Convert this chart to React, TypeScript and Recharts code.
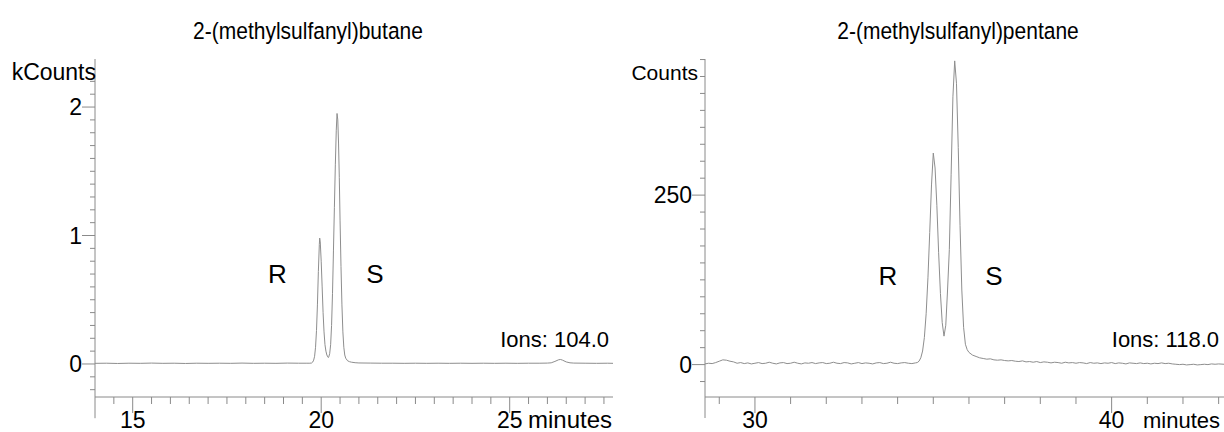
import React from 'react';
import { LineChart, Line, XAxis, YAxis, ReferenceLine } from 'recharts';

const AXIS = '#8a8a8a';
const TRACE = '#8e8e8e';
const FONT = '"Liberation Sans", Arial, Helvetica, sans-serif';

// ---------- 2-(methylsulfanyl)butane (kCounts vs minutes) ----------
const butaneMinutes = [
  14.0, 14.3, 14.6, 14.9, 15.2, 15.5, 15.8, 16.1, 16.4, 16.7, 17.0, 17.3, 17.6, 17.9, 18.2, 18.5, 18.8, 19.1, 19.4, 19.6,
  19.7, 19.75, 19.775, 19.8, 19.825, 19.85, 19.875, 19.9, 19.925, 19.95, 19.96, 19.975, 20.0, 20.025, 20.05, 20.075,
  20.1, 20.125, 20.15, 20.175, 20.19, 20.2, 20.225, 20.25, 20.275, 20.3, 20.325, 20.35, 20.375, 20.4, 20.42, 20.44,
  20.46, 20.48, 20.5, 20.525, 20.55, 20.575, 20.6, 20.625, 20.65, 20.7, 20.75, 20.8, 20.9, 21.0,
  21.3, 21.6, 21.9, 22.2, 22.5, 22.8, 23.1, 23.4, 23.7, 24.0, 24.3, 24.6, 24.9, 25.2, 25.5, 25.8,
  26.0, 26.1, 26.2, 26.3, 26.35, 26.4, 26.5, 26.6, 26.7, 27.0, 27.3, 27.6, 27.74,
];
const butaneKCounts = [
  0.005, 0.006, 0.004, 0.006, 0.005, 0.007, 0.005, 0.006, 0.004, 0.006, 0.005, 0.006, 0.005, 0.007, 0.005, 0.006, 0.005, 0.007, 0.006, 0.006,
  0.006, 0.008, 0.015, 0.03, 0.06, 0.13, 0.26, 0.46, 0.72, 0.93, 0.98, 0.95, 0.8, 0.6, 0.4, 0.25,
  0.15, 0.1, 0.07, 0.055, 0.05, 0.055, 0.08, 0.15, 0.3, 0.55, 0.88, 1.22, 1.55, 1.82, 1.95, 1.9,
  1.72, 1.45, 1.12, 0.76, 0.46, 0.25, 0.13, 0.07, 0.045, 0.025, 0.018, 0.014, 0.01, 0.008,
  0.007, 0.006, 0.006, 0.005, 0.006, 0.005, 0.006, 0.005, 0.006, 0.005, 0.006, 0.005, 0.006, 0.005, 0.006, 0.006,
  0.007, 0.009, 0.02, 0.033, 0.035, 0.03, 0.016, 0.009, 0.007, 0.006, 0.005, 0.006, 0.005,
];
const butaneXDomain = [14, 27.74];
const butaneYDomain = [-0.257, 2.374];
const butaneXTicks = [14.5, 15, 15.5, 16, 16.5, 17, 17.5, 18, 18.5, 19, 19.5, 20, 20.5, 21, 21.5, 22, 22.5, 23, 23.5, 24, 24.5, 25, 25.5, 26, 26.5, 27, 27.5];
const butaneXLabels = [15, 20, 25];
const butaneYTicks = [-0.2, -0.1, 0, 0.1, 0.2, 0.3, 0.4, 0.5, 0.6, 0.7, 0.8, 0.9, 1, 1.1, 1.2, 1.3, 1.4, 1.5, 1.6, 1.7, 1.8, 1.9, 2, 2.1, 2.2, 2.3];
const butaneYLabels = [0, 1, 2];

// ---------- 2-(methylsulfanyl)pentane (Counts vs minutes) ----------
const pentaneMinutes = [
  28.6, 28.7, 28.8, 28.9, 29.0, 29.1, 29.2, 29.3, 29.4, 29.5, 29.6, 29.7, 29.8, 29.9, 30.0, 30.1, 30.2, 30.3, 30.4, 30.5,
  30.6, 30.7, 30.8, 30.9, 31.0, 31.1, 31.2, 31.3, 31.4, 31.5, 31.6, 31.7, 31.8, 31.9, 32.0, 32.1, 32.2, 32.3, 32.4, 32.5,
  32.6, 32.7, 32.8, 32.9, 33.0, 33.1, 33.2, 33.3, 33.4, 33.5, 33.6, 33.7, 33.8, 33.9, 34.0, 34.1, 34.2, 34.3, 34.4, 34.5,
  34.55, 34.6, 34.65, 34.7, 34.75, 34.8, 34.85, 34.9, 34.95, 35.0, 35.05, 35.1, 35.15, 35.2, 35.25, 35.3, 35.35, 35.4,
  35.45, 35.5, 35.55, 35.6, 35.65, 35.7, 35.75, 35.8, 35.85, 35.9, 35.95, 36.0, 36.1, 36.2, 36.3, 36.4, 36.5, 36.6,
  36.7, 36.8, 36.9, 37.0, 37.1, 37.2, 37.3, 37.4, 37.5, 37.6, 37.7, 37.8, 37.9, 38.0, 38.1, 38.2, 38.3, 38.4, 38.5,
  38.6, 38.7, 38.8, 38.9, 39.0, 39.1, 39.2, 39.3, 39.4, 39.5, 39.6, 39.7, 39.8, 39.9, 40.0, 40.1, 40.2, 40.3, 40.4,
  40.5, 40.6, 40.7, 40.8, 40.9, 41.0, 41.1, 41.2, 41.3, 41.4, 41.5, 41.6, 41.7, 41.8, 41.9, 42.0, 42.1, 42.2, 42.3,
  42.4, 42.5, 42.6, 42.7, 42.8, 42.9, 43.0, 43.15,
];
const pentaneCounts = [
  1, 2, 1.5, 3, 5, 7, 6.5, 5, 4, 2, 3, 1.5, 2.5, 1, 2, 3, 1.5, 2, 3.5, 2,
  1, 2.5, 3, 1.5, 2, 3.5, 2, 1, 2.5, 2, 3, 1.5, 2.5, 3, 1.5, 2, 3.5, 2, 1.5, 3,
  2.5, 1, 2, 3, 1.5, 2.5, 2, 1, 2.5, 3, 1.5, 2, 3.5, 2, 1.5, 2.5, 3, 2, 1.5, 2.5,
  3, 5, 10, 20, 40, 75, 128, 195, 265, 312, 290, 235, 165, 105, 62, 42, 58, 110,
  170, 280, 395, 448, 415, 320, 205, 110, 55, 30, 22, 18, 14, 12, 10, 9, 8, 8.5,
  7, 6.5, 7, 6, 5.5, 6, 5, 4.5, 5.5, 4, 4.5, 3.5, 4.5, 3, 4, 3.5, 2.5, 3.5, 3,
  2, 3.5, 2.5, 3, 2, 3, 2.5, 1.5, 3, 2, 2.5, 1.5, 2.5, 2, 3, 1.5, 2.5, 2, 1,
  2.5, 2, 1.5, 2.5, 1.5, 2, 1, 2, 1.5, 2.5, 1.5, 2, 1, 0.5, 0, 0.5, -0.5, 0, 0.5,
  -0.5, 0, 0.5, 0, 1, 0.5, 1, 0.5,
];
const pentaneXDomain = [28.6, 43.15];
const pentaneYDomain = [-47.8, 450.8];
const pentaneXTicks = [29, 30, 31, 32, 33, 34, 35, 36, 37, 38, 39, 40, 41, 42, 43];
const pentaneXLabels = [30, 40];
const pentaneYTicks = [-25, 0, 25, 50, 75, 100, 125, 150, 175, 200, 225, 250, 275, 300, 325, 350, 375, 400, 425, 450];
const pentaneYLabels = [0, 250];

const zip = (xs: number[], ys: number[]) => xs.map((t, i) => ({ t, v: ys[i] }));
const butaneData = zip(butaneMinutes, butaneKCounts);
const pentaneData = zip(pentaneMinutes, pentaneCounts);

const isIn = (v: number, list: number[]) => list.some((m) => Math.abs(m - v) < 1e-6);

function XTick(props: any) {
  const { x, y, payload, labels } = props;
  const major = isIn(payload.value, labels);
  return (
    <g>
      <line x1={x} x2={x} y1={y} y2={y + (major ? 16 : 7)} stroke={AXIS} strokeWidth={1} />
      {major && (
        <text x={x} y={y + 31} textAnchor="middle" fontSize={23} fontFamily={FONT} fill="#000">
          {payload.value}
        </text>
      )}
    </g>
  );
}

function YTick(props: any) {
  const { x, y, payload, labels } = props;
  const major = isIn(payload.value, labels);
  return (
    <g>
      <line x1={x - (major ? 13 : 5)} x2={x} y1={y} y2={y} stroke={AXIS} strokeWidth={1} />
      {major && (
        <text x={x - 13} y={y + 8} textAnchor="end" fontSize={23} fontFamily={FONT} fill="#000">
          {payload.value}
        </text>
      )}
    </g>
  );
}

function Chrom(props: any) {
  const { data, xDomain, yDomain, xTicks, xLabels, yTicks, yLabels, width, yAxisWidth, marginRight, axisExt } = props;
  return (
    <LineChart width={width} height={432} data={data} margin={{ top: 59, right: marginRight, bottom: 0, left: 0 }}>
      <XAxis
        dataKey="t"
        type="number"
        domain={xDomain}
        allowDataOverflow
        ticks={xTicks}
        interval={0}
        height={35}
        tickSize={0}
        tickMargin={0}
        tickLine={false}
        axisLine={{ stroke: AXIS, strokeWidth: 1 }}
        tick={(p: any) => <XTick {...p} labels={xLabels} />}
      />
      <YAxis
        type="number"
        domain={yDomain}
        allowDataOverflow
        ticks={yTicks}
        interval={0}
        width={yAxisWidth}
        tickSize={0}
        tickMargin={0}
        tickLine={false}
        axisLine={{ stroke: AXIS, strokeWidth: 1 }}
        tick={(p: any) => <YTick {...p} labels={yLabels} />}
      />
      <ReferenceLine
        segment={[
          { x: xDomain[0], y: yDomain[0] },
          { x: xDomain[0], y: yDomain[0] - axisExt },
        ]}
        stroke={AXIS}
        strokeWidth={1}
        ifOverflow="visible"
      />
      <Line
        type="linear"
        dataKey="v"
        stroke={TRACE}
        strokeWidth={1}
        dot={false}
        activeDot={false}
        isAnimationActive={false}
      />
    </LineChart>
  );
}

const txt = { fontFamily: FONT, fill: '#000' } as const;

export default function App() {
  return (
    <div style={{ position: 'absolute', left: 0, top: 0, width: 1224, height: 432, background: '#fff', overflow: 'hidden' }}>
      <div style={{ position: 'absolute', left: 0, top: 0 }}>
        <Chrom
          data={butaneData}
          xDomain={butaneXDomain}
          yDomain={butaneYDomain}
          xTicks={butaneXTicks}
          xLabels={butaneXLabels}
          yTicks={butaneYTicks}
          yLabels={butaneYLabels}
          width={640}
          yAxisWidth={95}
          marginRight={27}
          axisExt={0.165}
        />
      </div>
      <div style={{ position: 'absolute', left: 620, top: 0 }}>
        <Chrom
          data={pentaneData}
          xDomain={pentaneXDomain}
          yDomain={pentaneYDomain}
          xTicks={pentaneXTicks}
          xLabels={pentaneXLabels}
          yTicks={pentaneYTicks}
          yLabels={pentaneYLabels}
          width={604}
          yAxisWidth={85}
          marginRight={0}
          axisExt={31}
        />
      </div>
      <svg width={1224} height={432} style={{ position: 'absolute', left: 0, top: 0, pointerEvents: 'none' }}>
        <text transform="translate(308,39) scale(1,1.18)" textAnchor="middle" fontSize={21} {...txt}>2-(methylsulfanyl)butane</text>
        <text transform="translate(958,39) scale(1,1.18)" textAnchor="middle" fontSize={21} {...txt}>2-(methylsulfanyl)pentane</text>
        <text x={96} y={80} textAnchor="end" fontSize={23} {...txt}>kCounts</text>
        <text x={698} y={80} textAnchor="end" fontSize={21} {...txt}>Counts</text>
        <text x={277.5} y={283} textAnchor="middle" fontSize={26} {...txt}>R</text>
        <text x={375} y={283} textAnchor="middle" fontSize={26} {...txt}>S</text>
        <text x={888} y={285} textAnchor="middle" fontSize={26} {...txt}>R</text>
        <text x={994} y={285} textAnchor="middle" fontSize={26} {...txt}>S</text>
        <text x={609} y={347} textAnchor="end" fontSize={22} {...txt}>Ions: 104.0</text>
        <text x={1219} y={347} textAnchor="end" fontSize={22} {...txt}>Ions: 118.0</text>
        <text x={528} y={428} textAnchor="start" fontSize={24} {...txt}>minutes</text>
        <text x={1220} y={428} textAnchor="end" fontSize={22} {...txt}>minutes</text>
      </svg>
    </div>
  );
}
